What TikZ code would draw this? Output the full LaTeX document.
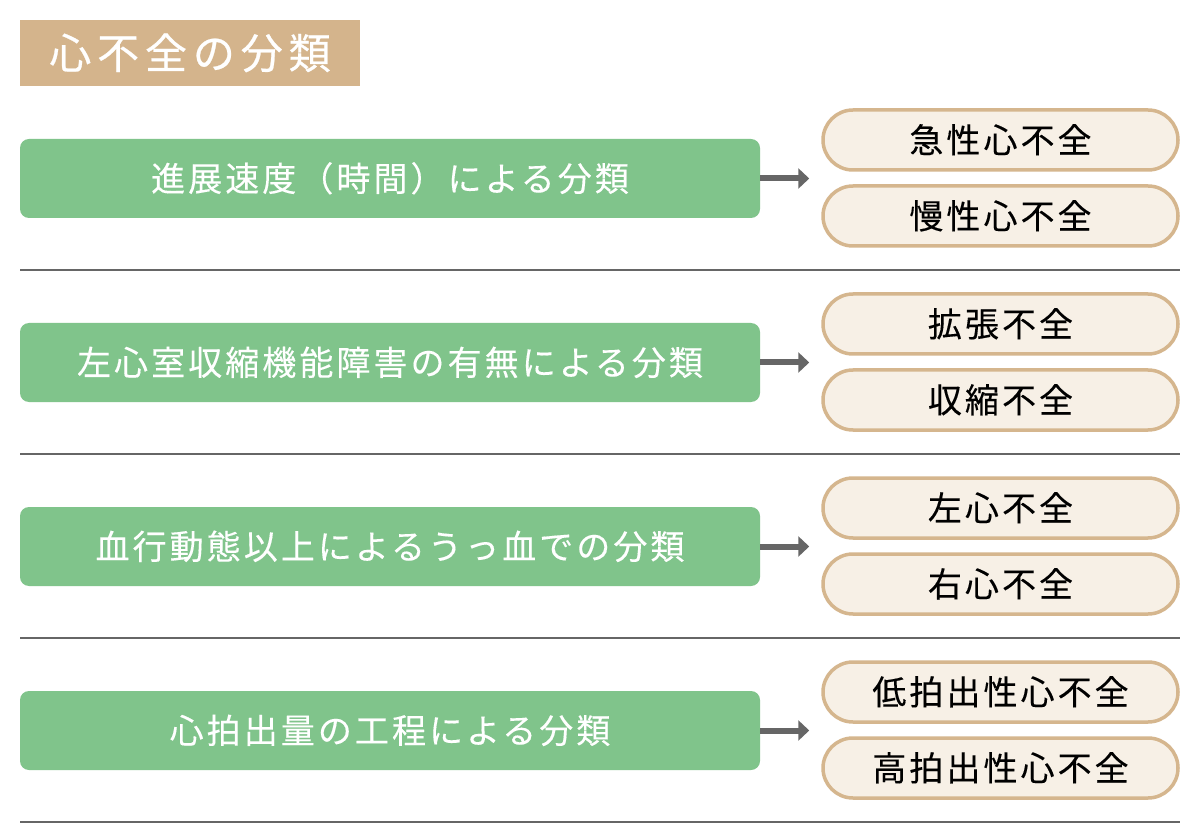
\documentclass[tikz,border=0pt]{standalone}
\usepackage{fontspec}
\usetikzlibrary{arrows.meta}
\newfontfamily\jpfont[LetterSpace=9,FakeBold=0.25]{Noto Sans CJK JP}
\newfontfamily\jptitle[LetterSpace=14,FakeBold=0.6]{Noto Sans CJK JP}
\definecolor{gboxc}{HTML}{80C48B}
\definecolor{tanc}{HTML}{D4B48C}
\definecolor{pillfill}{HTML}{F7F0E6}
\definecolor{pilledge}{HTML}{D5B68E}
\definecolor{grayc}{HTML}{666666}
\begin{document}
\begin{tikzpicture}[x=1pt,y=-1pt,
  titlebox/.style={fill=tanc,draw=none,minimum width=340pt,minimum height=66pt,inner sep=0pt,
    text=white,font=\jptitle\fontsize{42}{46}\selectfont,text height=35.7pt,text depth=4.2pt},
  catbox/.style={fill=gboxc,draw=none,rounded corners=9pt,minimum width=740pt,minimum height=79pt,inner sep=0pt,
    text=white,font=\jpfont\fontsize{34}{38}\selectfont,text height=28.9pt,text depth=3.4pt},
  pillbox/.style={fill=pillfill,draw=pilledge,line width=3.5pt,rounded corners=30pt,minimum width=355pt,minimum height=60pt,inner sep=0pt,
    text=black,font=\jpfont\fontsize{34}{38}\selectfont,text height=28.9pt,text depth=3.4pt},
  sepline/.style={draw=grayc,line width=2pt},
  flowarrow/.style={draw=grayc,line width=6pt,-{Triangle[length=11pt,width=20pt]},shorten >=12pt}
]
\useasboundingbox (0,0) rectangle (1200,834);
\fill[white] (0,0) rectangle (1200,834);
\node[titlebox] (title) at (190,53) {心不全の分類};

\foreach \k/\cat/\pa/\pb in {
  0/進展速度（時間）による分類/急性心不全/慢性心不全,
  1/左心室収縮機能障害の有無による分類/拡張不全/収縮不全,
  2/血行動態以上によるうっ血での分類/左心不全/右心不全,
  3/心拍出量の工程による分類/低拍出性心不全/高拍出性心不全}{
  \node[catbox] (c\k) at (390,178.5+184*\k) {\cat};
  \node[pillbox] (pa\k) at (1000.5,140+184*\k) {\pa};
  \node[pillbox] (pb\k) at (1000.5,216+184*\k) {\pb};
  \draw[flowarrow] (c\k.east) -- (pa\k.west |- c\k.east);
  \coordinate (sl\k) at (20,270+184*\k);
  \coordinate (sr\k) at (1180,270+184*\k);
  \draw[sepline] (sl\k) -- (sr\k);
}
\end{tikzpicture}
\end{document}
